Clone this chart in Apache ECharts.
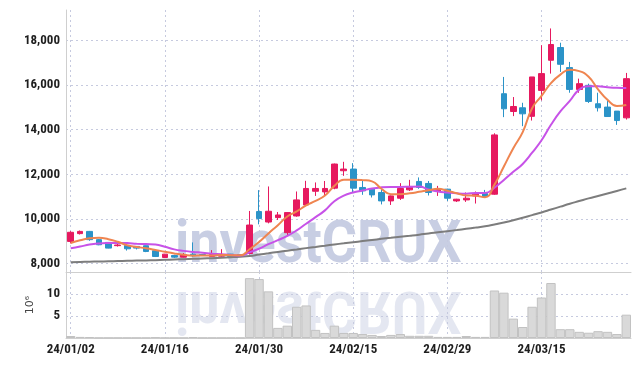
<!DOCTYPE html>
<html><head><meta charset="utf-8">
<script src="https://cdn.jsdelivr.net/npm/echarts@6/dist/echarts.min.js"></script>
<style>html,body{margin:0;padding:0;background:#fff}#c{width:639px;height:366px}</style>
</head><body><div id="c"></div>
<script>
const dates = ['24/01/02','24/01/03','24/01/04','24/01/05','24/01/08','24/01/09','24/01/10','24/01/11','24/01/12','24/01/15',
'24/01/16','24/01/17','24/01/18','24/01/19','24/01/22','24/01/23','24/01/24','24/01/25','24/01/26','24/01/29',
'24/01/30','24/01/31','24/02/01','24/02/02','24/02/05','24/02/06','24/02/07','24/02/08','24/02/13','24/02/14',
'24/02/15','24/02/16','24/02/19','24/02/20','24/02/21','24/02/22','24/02/23','24/02/26','24/02/27','24/02/28',
'24/02/29','24/03/04','24/03/05','24/03/06','24/03/07','24/03/08','24/03/11','24/03/12','24/03/13','24/03/14',
'24/03/15','24/03/18','24/03/19','24/03/20','24/03/21','24/03/22','24/03/25','24/03/26','24/03/27','24/03/28'];

const opens = [8990,9340,9440,9070,8946,8800,8810,8766,8797,8572,
8270,8360,8285,8420,8400,8320,8330,8420,8400,8450,
10330,9860,10059,9383,10131,10626,11240,11210,11379,12160,
12235,11410,11334,11185,10807,10928,11302,11680,11590,11257,
11334,10807,10852,11030,11140,11108,15614,14816,14983,14600,
15762,17114,17686,16785,15807,15990,15163,15014,14834,14532];
const closes = [9400,9440,9070,8840,8690,8830,8660,8690,8540,8315,
8420,8285,8390,8350,8370,8400,8410,8320,8340,9725,
10014,10343,10176,10284,10852,11365,11365,11365,12460,12235,
11379,11257,11077,10807,11032,11365,11455,11410,11185,11334,
10928,10883,10928,11108,11005,13766,14938,15041,14712,16366,
16515,17821,16933,15807,16064,15267,14983,14591,14410,16289];
const lows = [8900,9300,9020,8820,8680,8760,8580,8630,8510,8290,
8250,8250,8270,8300,8340,8300,8310,8300,8320,8400,
9757,9800,9950,9260,10100,10600,11030,11030,11330,11930,
11200,11080,10960,10650,10626,10850,11250,11350,11050,11030,
10807,10760,10762,10690,10980,11080,14564,14609,14158,14410,
15312,16515,16590,15658,15658,15200,14816,14591,14217,14456];
const highs = [9450,9480,9460,9100,8960,8900,8850,8780,8810,8580,
8430,8390,8470,8946,8420,8600,8644,8430,8420,10356,
11290,11455,10310,10300,11230,11708,11635,11700,12480,12560,
12500,11750,11350,11330,11050,11604,11752,11860,11700,11480,
11350,10900,11185,11230,11300,13840,16366,15465,15208,16366,
17790,18541,17900,17040,16290,16064,15658,15312,14834,16546];

const maShort = [8920,9040,9130,9150,9088,8974,8818,8742,8682,8607,
8525,8450,8390,8352,8363,8359,8384,8370,8368,8639,
8962,9348,9720,10108,10334,10604,10808,11046,11481,11758,
11761,11739,11682,11351,11110,11108,11147,11214,11289,11350,
11262,11148,11052,11036,10970,11538,12349,13172,13892,14965,
15514,16091,16469,16688,16628,16378,15811,15342,15063,15108];
const maMid = [8680,8760,8850,8900,8920,8925,8915,8890,8870,8848,
8750,8634,8566,8517,8485,8442,8417,8380,8360,8501,
8660,8866,9045,9238,9486,9783,10078,10383,10795,11046,
11182,11274,11364,11416,11434,11434,11443,11448,11320,11230,
11185,11148,11133,11163,11160,11400,11749,12112,12464,12968,
13526,14220,14821,15290,15796,15946,15951,15906,15876,15868];
const maLong = [8060,8070,8080,8090,8100,8110,8120,8130,8140,8150,
8165,8180,8195,8210,8225,8240,8260,8280,8305,8340,
8400,8460,8520,8575,8630,8690,8745,8800,8855,8905,
8955,9005,9055,9105,9150,9195,9240,9290,9350,9400,
9450,9500,9555,9610,9670,9750,9840,9940,10050,10170,
10290,10420,10550,10680,10800,10920,11030,11140,11250,11370];

const volumes = [0.45,0.25,0.2,0.05,0.05,0.05,0.05,0.05,0.05,0.15,
0.05,0.05,0.05,0.2,0.05,0.05,0.05,0.05,0.05,13.6,
13.4,10.6,2.3,2.8,7.1,7.4,1.85,1.15,2.8,1.15,
1.15,0.9,0.7,0.45,0.7,0.9,0.5,0.5,0.5,0.25,
0.25,0.25,0.45,0.25,0.25,10.8,10.3,4.4,2.5,7.1,
9.2,12.5,2.0,2.0,1.4,1.2,1.55,1.4,0.9,5.3];

const priceMin = 7619, priceMax = 19368;
const volMin = 0, volMax = 15, volInterval = 5;

const candles = dates.map((d,i)=>[opens[i],closes[i],lows[i],highs[i]]);

const FONT = '"Roboto Condensed", "DejaVu Sans Condensed", Roboto, sans-serif';
const gridLine = {show:true, lineStyle:{color:'#c6cadf', type:[2,3], width:1}};
const axisLineStyle = {show:true, lineStyle:{color:'#cfcfcf', width:1}};
const axisLbl = {fontFamily:FONT, fontWeight:'bold', fontSize:13, color:'#1e1e1e'};

const chart = echarts.init(document.getElementById('c'), null, {renderer:'canvas'});
chart.setOption({
  animation:false,
  backgroundColor:'#fff',
  graphic:[
    {type:'text', x:175, y:277, scaleX:0.9, z:-10, style:{text:'investCRUX', font:'bold 60px Roboto, sans-serif', fill:'#c2c9e0', verticalAlign:'bottom', opacity:0.9}},
    {type:'text', x:175, y:277, scaleX:0.9, scaleY:-1, z:-10, style:{text:'investCRUX', font:'bold 60px Roboto, sans-serif', fill:'#c4cadf', verticalAlign:'bottom', opacity:0.45}}
  ],
  grid:[
    {left:66, right:8, top:10, height:262},
    {left:66, right:8, top:272, height:66}
  ],
  xAxis:[
    {type:'category', gridIndex:0, data:dates, boundaryGap:true,
     axisLine:axisLineStyle, axisTick:{show:false, alignWithLabel:true, interval:9}, axisLabel:{show:false, interval:9},
     splitLine:Object.assign({interval:9, alignWithLabel:true}, gridLine)},
    {type:'category', gridIndex:1, data:dates, boundaryGap:true,
     axisLine:axisLineStyle, axisTick:{show:false, alignWithLabel:true, interval:9},
     axisLabel:Object.assign({interval:9, margin:5}, axisLbl, {fontSize:13}),
     splitLine:Object.assign({interval:9, alignWithLabel:true}, gridLine)}
  ],
  yAxis:[
    {type:'value', gridIndex:0, min:priceMin, max:priceMax, splitNumber:5, scale:true,
     axisLine:axisLineStyle, axisTick:{show:false},
     axisLabel:Object.assign({showMinLabel:false, showMaxLabel:false, margin:6,
       formatter:v=>v.toLocaleString('en-US')}, axisLbl),
     splitLine:Object.assign({showMinLine:false, showMaxLine:false}, gridLine)},
    {type:'value', gridIndex:1, min:volMin, max:volMax, interval:volInterval,
     name:'10\u2076', nameLocation:'middle', nameGap:25, nameRotate:90,
     nameTextStyle:{fontFamily:'DejaVu Sans', fontSize:11, color:'#444'},
     axisLine:axisLineStyle, axisTick:{show:false},
     axisLabel:Object.assign({showMinLabel:false, showMaxLabel:false, margin:6}, axisLbl),
     splitLine:Object.assign({showMinLine:false, showMaxLine:false}, gridLine)}
  ],
  series:[
    {type:'candlestick', xAxisIndex:0, yAxisIndex:0, data:candles, barWidth:'66%',
     itemStyle:{color:'#e6195f', color0:'#2b93c8', borderColor:'#e6195f', borderColor0:'#2b93c8', borderWidth:1}},
    {type:'line', xAxisIndex:0, yAxisIndex:0, data:maLong, smooth:true, showSymbol:false,
     lineStyle:{color:'#7d7d7d', width:2}},
    {type:'line', xAxisIndex:0, yAxisIndex:0, data:maMid, smooth:true, showSymbol:false,
     lineStyle:{color:'#c752e8', width:2}},
    {type:'line', xAxisIndex:0, yAxisIndex:0, data:maShort, smooth:true, showSymbol:false,
     lineStyle:{color:'#ef8550', width:2}},
    {type:'bar', xAxisIndex:1, yAxisIndex:1, data:volumes, barWidth:'100%',
     itemStyle:{color:'#d9d9d9', borderColor:'#c2c2c2', borderWidth:1}}
  ]
});
</script></body></html>
